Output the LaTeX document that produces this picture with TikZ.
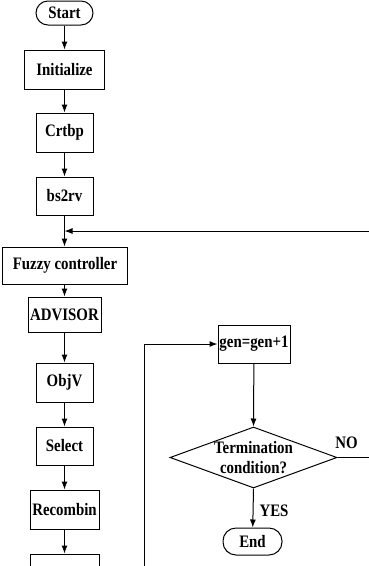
\documentclass[tikz,border=0pt]{standalone}
\usepackage{fontspec}
\setmainfont{Liberation Serif}[FakeStretch=0.85]
\usetikzlibrary{arrows.meta,shapes.geometric,calc}
\begin{document}
\begin{tikzpicture}[x=1pt,y=-1pt,line width=1pt,
  lbl/.style={font=\fontsize{17.5}{20}\selectfont\bfseries},
  box/.style={draw,rectangle,inner sep=0pt,lbl},
  term/.style={draw,rectangle,rounded corners=12pt,inner sep=0pt,lbl},
  dia/.style={draw,diamond,inner sep=0pt},
  arr/.style={-{Latex[length=8pt,width=6pt]}}]
\useasboundingbox (0,0) rectangle (369,566);
\clip (0,0) rectangle (369,566);
% left column
\node[term,minimum width=57,minimum height=24] (start) at (64.5,13) {Start};
\node[box,minimum width=80,minimum height=39] (init) at (64.5,69.5) {Initialize};
\node[box,minimum width=57,minimum height=39] (crt) at (64.5,132.5) {Crtbp};
\node[box,minimum width=57,minimum height=38] (bs) at (64.5,196) {bs2rv};
\node[box,minimum width=125,minimum height=37] (fuzzy) at (65,265.5) {Fuzzy controller};
\node[box,minimum width=73,minimum height=35] (adv) at (64.5,314.5) {ADVISOR};
\node[box,minimum width=57,minimum height=39] (objv) at (64.5,382.5) {ObjV};
\node[box,minimum width=57,minimum height=38] (sel) at (64.5,446) {Select};
\node[box,minimum width=69,minimum height=39] (rec) at (64.5,509.5) {Recombin};
\node[box,minimum width=69,minimum height=39] (mut) at (64.5,573.5) {};
% right column
\node[box,minimum width=72,minimum height=38] (gen) at (254,344) {gen=gen+1};
\node[dia,minimum width=167,minimum height=61] (cond) at (253.5,457.5) {};
\node[lbl,align=center] (condtxt) at (cond) {Termination\\condition?};
\node[term,rounded corners=13pt,minimum width=59,minimum height=27] (end) at (252.5,541.5) {End};
\node[lbl] (no) at (346.5,443) {NO};
\node[lbl] (yes) at (274,511) {YES};
% coordinates
\coordinate (join) at (64.5,231);
\coordinate (rt) at (380,231);
\coordinate (nr) at (380,457.5);
\coordinate (lb) at (144,590);
% connectors
\draw[arr] (start) -- (init);
\draw[arr] (init) -- (crt);
\draw[arr] (crt) -- (bs);
\draw[arr] (bs) -- (fuzzy.north -| bs.south);
\draw[arr] (rt) -- (join);
\draw[arr] (fuzzy.south -| adv.north) -- (adv);
\draw[arr] (adv) -- (objv);
\draw[arr] (objv) -- (sel);
\draw[arr] (sel) -- (rec);
\draw[arr] (rec) -- (mut);
\draw[arr] (lb) |- (gen.west);
\draw[arr] (gen) -- (cond.north);
\draw (cond.east) -- (nr);
\draw[arr] (cond.south) -- (end);
\end{tikzpicture}
\end{document}
